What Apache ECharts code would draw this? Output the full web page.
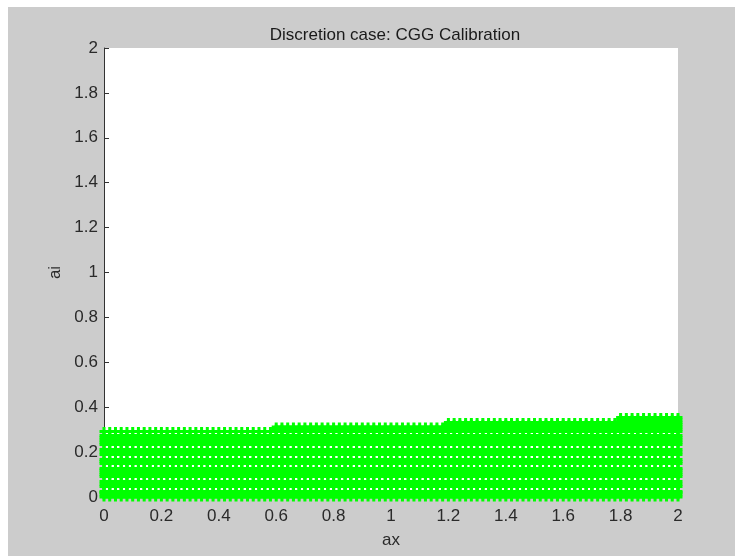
<!DOCTYPE html>
<html>
<head>
<meta charset="utf-8">
<script src="https://cdn.jsdelivr.net/npm/echarts@6/dist/echarts.min.js"></script>
<style>
  html, body { margin: 0; padding: 0; background: #fff; }
  #frame { position: absolute; left: 8px; top: 7px; width: 727px; height: 549px; background: #cccccc; }
  #chart { position: absolute; left: 0; top: 0; width: 735px; height: 556px; }
</style>
</head>
<body>
<div id="frame"></div>
<div id="chart"></div>
<script>
// ax grid (step 0.02)
const axValues = [
  0, 0.02, 0.04, 0.06, 0.08, 0.1, 0.12, 0.14, 0.16, 0.18,
  0.2, 0.22, 0.24, 0.26, 0.28, 0.3, 0.32, 0.34, 0.36, 0.38,
  0.4, 0.42, 0.44, 0.46, 0.48, 0.5, 0.52, 0.54, 0.56, 0.58,
  0.6, 0.62, 0.64, 0.66, 0.68, 0.7, 0.72, 0.74, 0.76, 0.78,
  0.8, 0.82, 0.84, 0.86, 0.88, 0.9, 0.92, 0.94, 0.96, 0.98,
  1, 1.02, 1.04, 1.06, 1.08, 1.1, 1.12, 1.14, 1.16, 1.18,
  1.2, 1.22, 1.24, 1.26, 1.28, 1.3, 1.32, 1.34, 1.36, 1.38,
  1.4, 1.42, 1.44, 1.46, 1.48, 1.5, 1.52, 1.54, 1.56, 1.58,
  1.6, 1.62, 1.64, 1.66, 1.68, 1.7, 1.72, 1.74, 1.76, 1.78,
  1.8, 1.82, 1.84, 1.86, 1.88, 1.9, 1.92, 1.94, 1.96, 1.98,
  2
];
// ai levels
const aiLevels = [0, 0.01, 0.02, 0.025, 0.047, 0.057, 0.069, 0.091, 0.10, 0.11,
  0.12, 0.127, 0.149, 0.158, 0.167, 0.189, 0.20, 0.212, 0.234, 0.244, 0.254,
  0.264, 0.274, 0.292, 0.302, 0.312, 0.322, 0.332, 0.343, 0.354];
// calibration steps: from ax start, highest ai reached
const segStart = [0, 0.6, 1.2, 1.8];
const segTop = [0.292, 0.312, 0.332, 0.354];
const tickLabels = ['0', '0.2', '0.4', '0.6', '0.8', '1', '1.2', '1.4', '1.6', '1.8', '2'];

let points = [];
axValues.forEach(function (x) {
  let top = segTop[0];
  for (let i = 0; i < segStart.length; i++) {
    if (x >= segStart[i] - 1e-9) top = segTop[i];
  }
  aiLevels.forEach(function (y) {
    if (y <= top + 1e-9) points.push([x, y]);
  });
});

// '+' marker
const plus = 'path://M-1.5,-4.5 L1.5,-4.5 L1.5,-1.5 L4.5,-1.5 L4.5,1.5 L1.5,1.5 L1.5,4.5 L-1.5,4.5 L-1.5,1.5 L-4.5,1.5 L-4.5,-1.5 L-1.5,-1.5 Z';

const font = 'Liberation Sans, Arial, sans-serif';
let myChart = echarts.init(document.getElementById('chart'));
let axisCommon = {
  type: 'value',
  min: 0,
  max: 2,
  interval: 0.2,
  axisLine: { show: true, lineStyle: { color: '#333', width: 1 } },
  axisTick: { show: true, inside: true, length: 5, lineStyle: { color: '#333' } },
  splitLine: { show: false },
  nameLocation: 'middle',
  nameTextStyle: { color: '#2a2a2a', fontSize: 17, fontFamily: font }
};
let option = {
  animation: false,
  title: {
    text: 'Discretion case: CGG Calibration',
    left: 390,
    top: 22,
    textAlign: 'center',
    textStyle: { color: '#1a1a1a', fontSize: 17, fontWeight: 'normal', fontFamily: font }
  },
  grid: {
    left: 104,
    right: 57,
    top: 48,
    bottom: 59,
    show: true,
    backgroundColor: '#fff',
    borderWidth: 0
  },
  xAxis: Object.assign({}, axisCommon, {
    name: 'ax',
    nameGap: 35,
    axisLabel: {
      color: '#2a2a2a', fontSize: 17, fontFamily: font, margin: 11,
      formatter: function (v) { return tickLabels[Math.round(v / 0.2)]; }
    }
  }),
  yAxis: Object.assign({}, axisCommon, {
    name: 'ai',
    nameGap: 38,
    nameRotate: 90,
    axisLabel: {
      color: '#2a2a2a', fontSize: 17, fontFamily: font, margin: 6,
      formatter: function (v) { return tickLabels[Math.round(v / 0.2)]; }
    }
  }),
  series: [
    {
      type: 'scatter',
      symbol: plus,
      symbolSize: 9,
      itemStyle: { color: '#00ff00', opacity: 1 },
      progressive: 0,
      large: false,
      clip: false,
      data: points
    }
  ]
};
myChart.setOption(option);
</script>
</body>
</html>
